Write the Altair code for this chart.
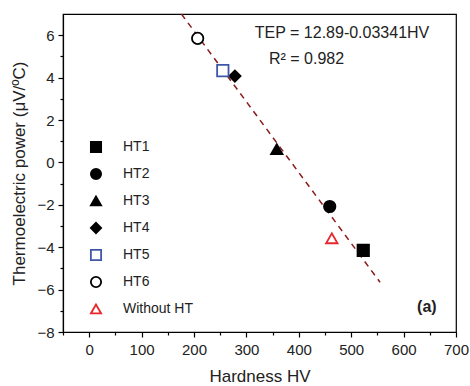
import altair as alt
import pandas as pd

# ---- data ----
series = ["HT1", "HT2", "HT3", "HT4", "HT5", "HT6", "Without HT"]
hardness = [523, 459, 358, 278, 255, 207, 463]
tep = [-4.15, -2.08, 0.62, 4.07, 4.33, 5.85, -3.58]
shapes = ["square", "circle", "triangle-up", "diamond", "square", "circle", "triangle-up"]
strokes = ["#000000", "#000000", "#000000", "#000000", "#3F57A8", "#000000", "#E8262B"]
fills = ["#000000", "#000000", "#000000", "#000000", "#ffffff", "#ffffff", "#ffffff"]

fit_hv = [176, 555]
fit_tep = [7.0, -5.65]

notes = ["TEP = 12.89-0.03341HV", "R² = 0.982"]
note_hv = [316, 343]
note_tep = [6.09, 4.87]
panel = ["(a)"]
panel_hv = [663]
panel_tep = [-6.8]

x_major = [0, 100, 200, 300, 400, 500, 600, 700]
x_minor = [-50, 50, 150, 250, 350, 450, 550, 650]
y_major = [-8, -6, -4, -2, 0, 2, 4, 6]
y_minor = [-7, -5, -3, -1, 1, 3, 5]

FONT = "Liberation Sans"

pts = pd.DataFrame({"series": series, "hv": hardness, "tep": tep})
fit = pd.DataFrame({"hv": fit_hv, "tep": fit_tep})
nt = pd.DataFrame({"t": notes, "hv": note_hv, "tep": note_tep})
pn = pd.DataFrame({"t": panel, "hv": panel_hv, "tep": panel_tep})

xscale = alt.Scale(domain=[-50, 700], nice=False, zero=False)
yscale = alt.Scale(domain=[-8, 7], nice=False, zero=False)

xaxis = alt.Axis(
    title="Hardness HV", values=x_major, labelOverlap=False, labelFlush=False,
    tickSize=5, orient="bottom",
    grid=False, labelFontSize=15, titleFontSize=17, labelPadding=5, titlePadding=11,
)
yaxis = alt.Axis(
    title="Thermoelectric power (μV/ºC)", values=y_major, labelOverlap=False,
    tickSize=5, orient="left",
    grid=False, labelFontSize=15, titleFontSize=17, labelPadding=4, titlePadding=8,
)
xminor_axis = alt.Axis(title=None, values=x_minor, labels=False, tickSize=3,
                       domain=False, grid=False, orient="bottom")
yminor_axis = alt.Axis(title=None, values=y_minor, labels=False, tickSize=3,
                       domain=False, grid=False, orient="left")

line = alt.Chart(fit).mark_line(color="#8B1A1A", strokeWidth=1.5, strokeDash=[6, 5]).encode(
    x=alt.X("hv:Q", scale=xscale, axis=xaxis),
    y=alt.Y("tep:Q", scale=yscale, axis=yaxis),
)

minor = alt.Chart(fit).mark_point(opacity=0).encode(
    x=alt.X("hv:Q", scale=xscale, axis=xminor_axis),
    y=alt.Y("tep:Q", scale=yscale, axis=yminor_axis),
)

points = alt.Chart(pts).mark_point(size=130, strokeWidth=1.8, opacity=1).encode(
    x=alt.X("hv:Q", scale=xscale, axis=None),
    y=alt.Y("tep:Q", scale=yscale, axis=None),
    shape=alt.Shape("series:N", scale=alt.Scale(domain=series, range=shapes),
                    legend=alt.Legend(title=None, orient="none", legendX=26, legendY=126,
                                      symbolSize=105, labelFontSize=14, rowPadding=9,
                                      labelOffset=20, symbolStrokeWidth=1.8,
                                      labelFont=FONT, labelColor="#222")),
    stroke=alt.Stroke("series:N", scale=alt.Scale(domain=series, range=strokes), legend=None),
    fill=alt.Fill("series:N", scale=alt.Scale(domain=series, range=fills), legend=None),
)

note_text = alt.Chart(nt).mark_text(align="left", baseline="middle", fontSize=16,
                                    font=FONT, color="#222").encode(
    x=alt.X("hv:Q", scale=xscale, axis=None), y=alt.Y("tep:Q", scale=yscale, axis=None),
    text="t:N")

panel_text = alt.Chart(pn).mark_text(align="right", baseline="middle", fontSize=16,
                                     fontWeight="bold", font=FONT, color="#222").encode(
    x=alt.X("hv:Q", scale=xscale, axis=None), y=alt.Y("tep:Q", scale=yscale, axis=None),
    text="t:N")

chart = alt.layer(line, minor, points, note_text, panel_text).resolve_axis(
    x="independent", y="independent"
).properties(
    width=393, height=318,
    autosize=alt.AutoSizeParams(type="none"),
    padding={"left": 63, "top": 14, "right": 14, "bottom": 54},
).configure_view(stroke="#000", strokeWidth=1.2).configure_axis(
    domainColor="#000", tickColor="#000", labelColor="#222", titleColor="#222",
    labelFont=FONT, titleFont=FONT, titleFontWeight="normal", domainWidth=1.2, tickWidth=1.2,
)

chart.save("out.html", embed_options={"renderer": "svg", "actions": False})
